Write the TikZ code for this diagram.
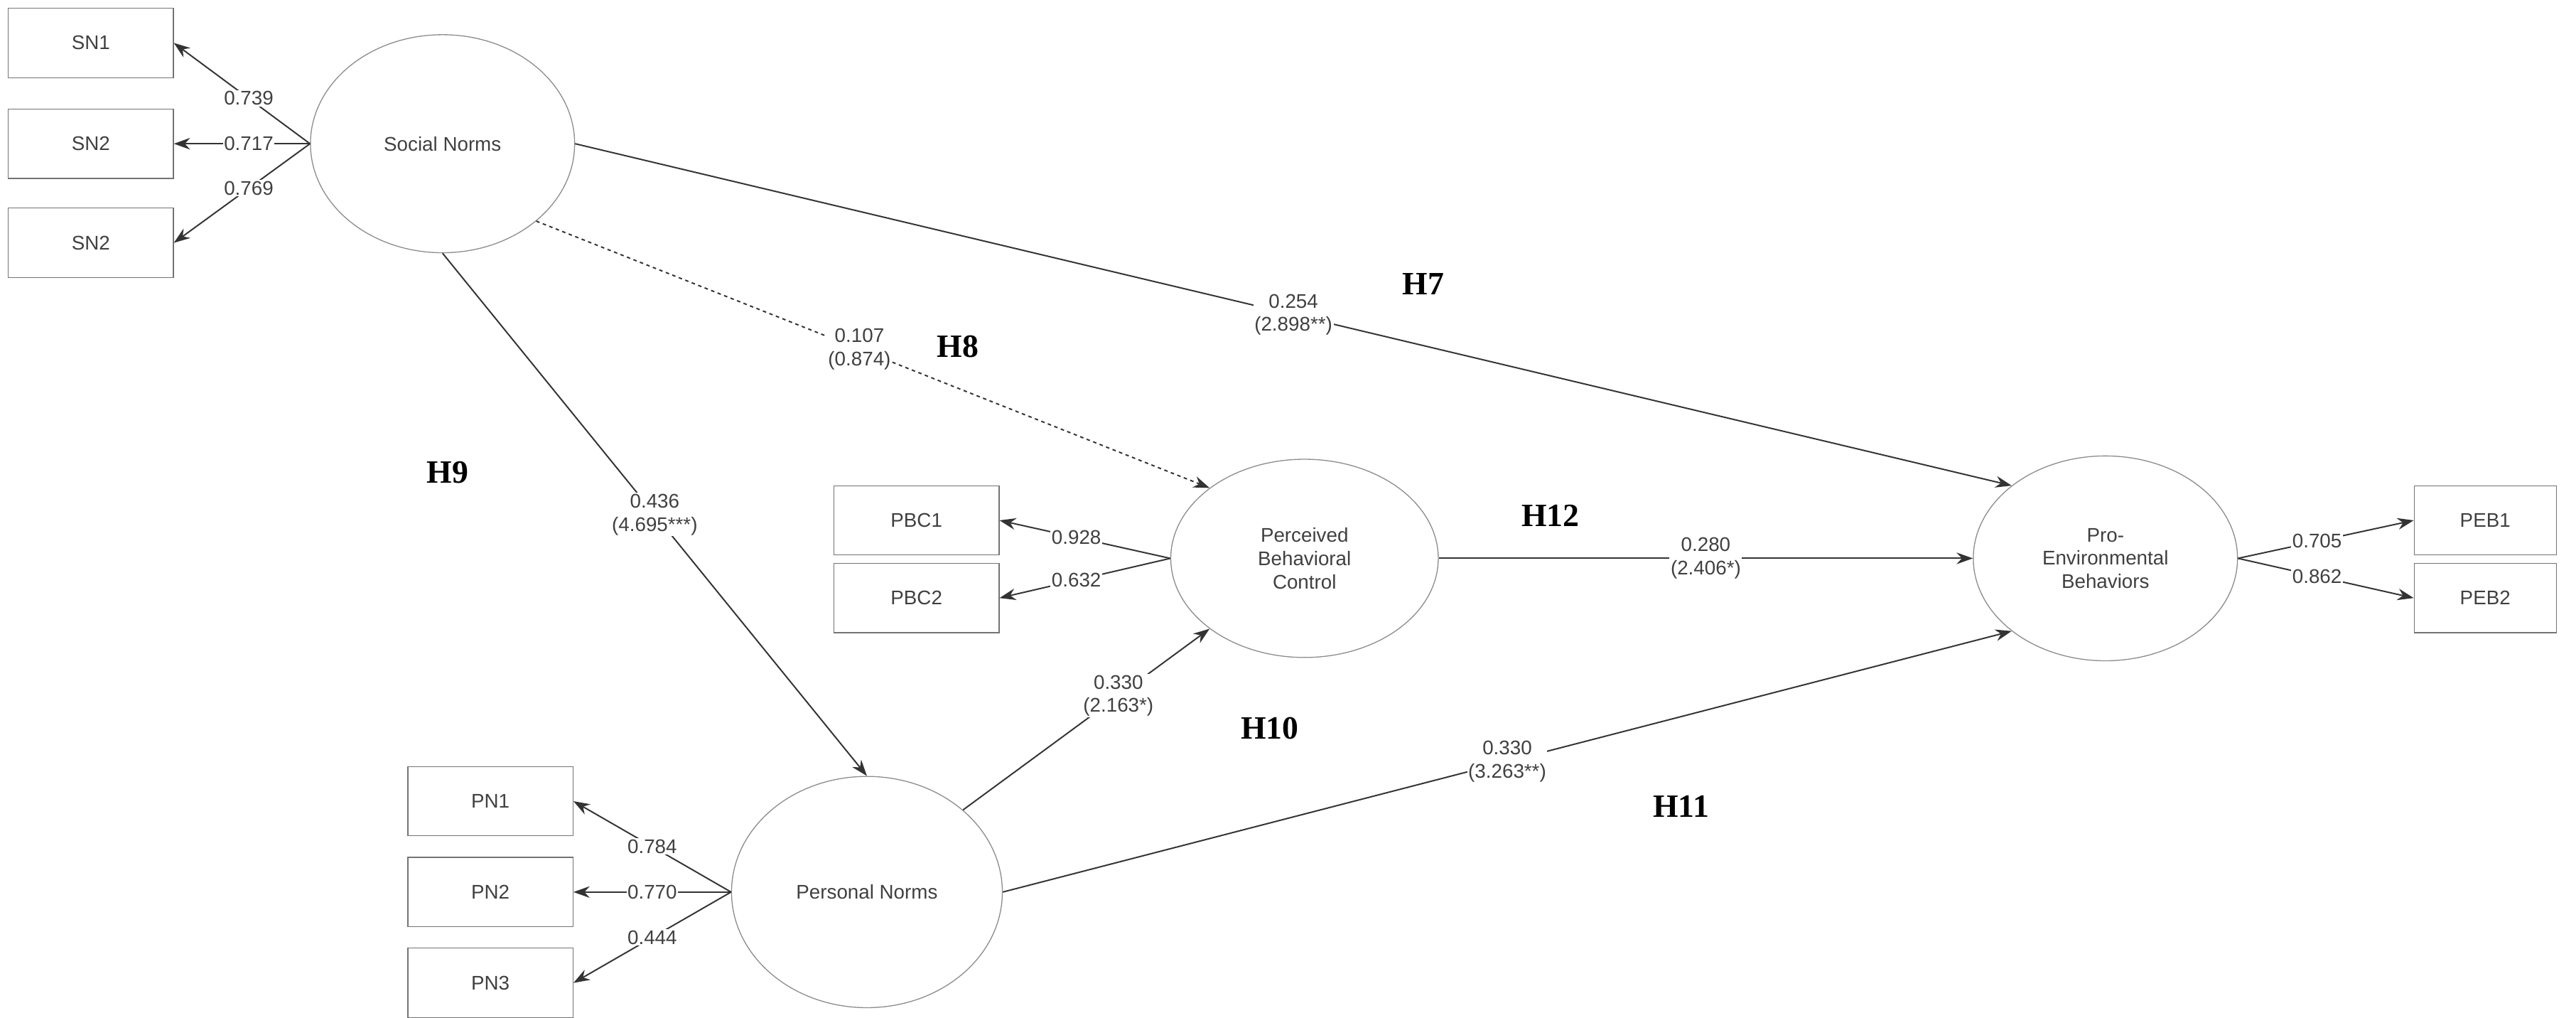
\documentclass[tikz,border=0pt]{standalone}
\usepackage{fontspec}
\setmainfont{Liberation Sans}
\newfontfamily\hfont{Liberation Serif}
\usetikzlibrary{shapes.geometric,arrows.meta}
\begin{document}
\begin{tikzpicture}[x=0.05cm,y=-0.05cm,
  every node/.style={font=\fontsize{17}{20}\selectfont, text=black!75},
  box/.style={draw=black!55, line width=0.8pt, minimum width=5cm, minimum height=2.1cm, inner sep=0pt},
  lat/.style={draw=black!45, line width=0.8pt, ellipse, inner sep=0pt, align=center},
  arr/.style={-{Stealth[length=14pt,width=10pt]}, line width=1.2pt, draw=black!80},
  lab/.style={fill=white, inner sep=1pt, align=center},
  hyp/.style={font=\hfont\bfseries\fontsize{28}{30}\selectfont, text=black}]
\useasboundingbox (0,0) rectangle (1560,616);
% indicators
\node[box] (sn1) at (55,26) {SN1};
\node[box] (sn2) at (55,87) {SN2};
\node[box] (sn3) at (55,147) {SN2};
\node[box] (pbc1) at (555,315) {PBC1};
\node[box] (pbc2) at (555,362) {PBC2};
\node[box] (pn1) at (297,485) {PN1};
\node[box] (pn2) at (297,540) {PN2};
\node[box] (pn3) at (297,595) {PN3};
\node[box, minimum width=4.3cm] (peb1) at (1505,315) {PEB1};
\node[box, minimum width=4.3cm] (peb2) at (1505,362) {PEB2};
% latents
\node[lat, minimum width=8cm, minimum height=6.6cm] (sn) at (268,87) {Social Norms};
\node[lat, minimum width=8.1cm, minimum height=6cm] (pbc) at (790,338) {Perceived\\Behavioral\\Control};
\node[lat, minimum width=8cm, minimum height=6.2cm] (peb) at (1275,338) {Pro-\\Environmental\\Behaviors};
\node[lat, minimum width=8.2cm, minimum height=7cm] (pn) at (525,540) {Personal Norms};
% loadings
\draw[arr] (sn.west) -- node[lab, pos=0.45]{0.739} (sn1.east);
\draw[arr] (sn.west) -- node[lab, pos=0.45]{0.717} (sn2.east);
\draw[arr] (sn.west) -- node[lab, pos=0.45]{0.769} (sn3.east);
\draw[arr] (pbc.west) -- node[lab, pos=0.55]{0.928} (pbc1.east);
\draw[arr] (pbc.west) -- node[lab, pos=0.55]{0.632} (pbc2.east);
\draw[arr] (pn.west) -- node[lab, pos=0.5]{0.784} (pn1.east);
\draw[arr] (pn.west) -- node[lab, pos=0.5]{0.770} (pn2.east);
\draw[arr] (pn.west) -- node[lab, pos=0.5]{0.444} (pn3.east);
\draw[arr] (peb.east) -- node[lab, pos=0.45]{0.705} (peb1.west);
\draw[arr] (peb.east) -- node[lab, pos=0.45]{0.862} (peb2.west);
% structural paths
\draw[arr] (sn.east) -- node[lab, pos=0.5]{0.254\\(2.898**)} (peb.north west);
\draw[arr, dashed] (sn.south east) -- node[lab, pos=0.48]{0.107\\(0.874)} (pbc.north west);
\draw[arr] (sn.south) -- node[lab, pos=0.5]{0.436\\(4.695***)} (pn.north);
\draw[arr] (pn.north east) -- node[lab, pos=0.63]{0.330\\(2.163*)} (pbc.south west);
\draw[arr] (pn.east) -- node[lab, pos=0.5]{0.330\\(3.263**)} (peb.south west);
\draw[arr] (pbc.east) -- node[lab, pos=0.5]{0.280\\(2.406*)} (peb.west);
% hypotheses
\node[hyp] (h7) at (862,172) {H7};
\node[hyp] (h8) at (580,210) {H8};
\node[hyp] (h9) at (271,286) {H9};
\node[hyp] (h10) at (769,441) {H10};
\node[hyp] (h11) at (1018,488) {H11};
\node[hyp] (h12) at (939,312) {H12};
\end{tikzpicture}
\end{document}
